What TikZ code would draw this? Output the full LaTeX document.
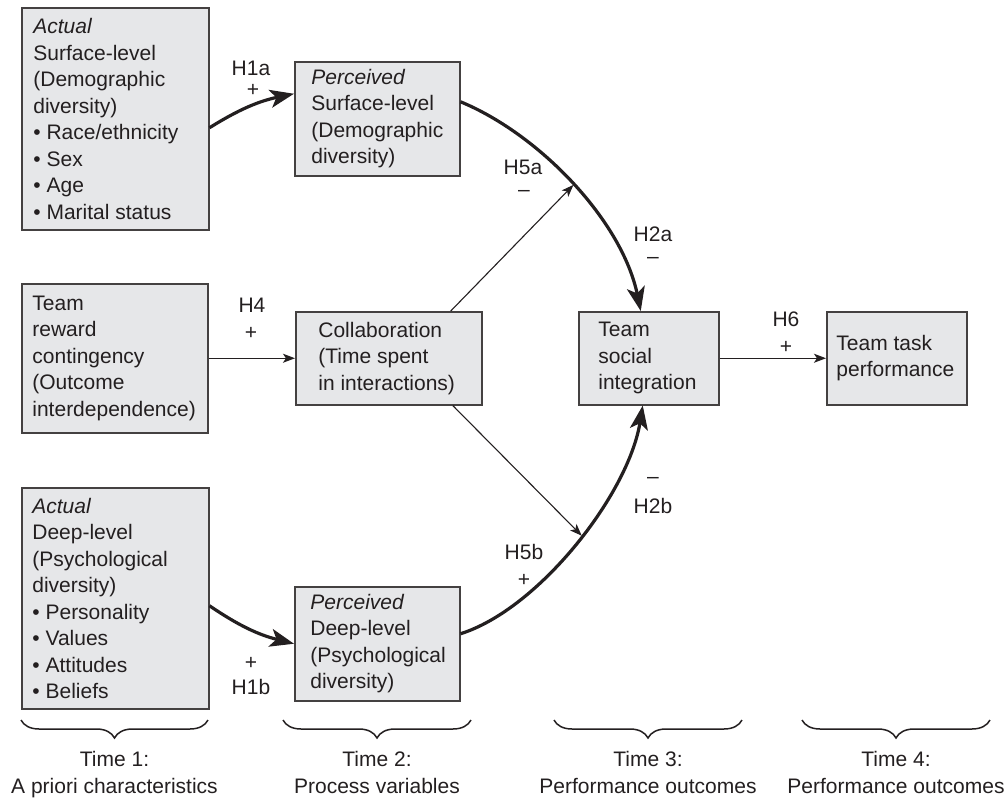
\documentclass[tikz,border=0pt]{standalone}
\usepackage{fontspec}
\setmainfont{Liberation Sans}
\usetikzlibrary{arrows.meta,decorations.pathreplacing,calc}
\definecolor{boxgray}{RGB}{230,231,233}
\definecolor{ink}{RGB}{35,31,32}
\begin{document}
\begin{tikzpicture}[x=0.5pt,y=-0.5pt,
  font=\fontsize{10.5pt}{13.25pt}\selectfont, color=ink,
  box/.style={draw=ink!85, line width=0.75pt, fill=boxgray, inner sep=0pt, anchor=north west},
  txt/.style={anchor=west, align=left, inner sep=0pt},
  lbl/.style={inner sep=0pt},
  thinarr/.style={line width=0.55pt, -{Stealth[length=6pt,width=4.5pt,inset=1.5pt]}},
  thickarr/.style={line width=1.6pt, -{Stealth[length=12pt,width=9pt,inset=3pt]}},
  brc/.style={decorate, decoration={brace, mirror, amplitude=9pt}, line width=0.75pt},
]
\useasboundingbox (0,0) rectangle (1008,798);

% boxes
\node[box, minimum width=93.5pt, minimum height=111pt] (a1) at (21,7) {};
\node[box, minimum width=82.5pt, minimum height=57pt] (p1) at (294,61) {};
\node[box, minimum width=93pt, minimum height=74.5pt] (tr) at (21,283) {};
\node[box, minimum width=93pt, minimum height=46.5pt] (co) at (295,311) {};
\node[box, minimum width=70pt, minimum height=46.5pt] (tsi) at (578,311) {};
\node[box, minimum width=70pt, minimum height=46.5pt] (ttp) at (826,311) {};
\node[box, minimum width=93.5pt, minimum height=110.5pt] (a2) at (21,487) {};
\node[box, minimum width=82.5pt, minimum height=57pt] (p2) at (294,586) {};

% box texts
\node[txt] (a1t) at ([xshift=6pt]a1.west) {\textit{Actual}\\Surface-level\\(Demographic\\diversity)\\\textbullet\ Race/ethnicity\\\textbullet\ Sex\\\textbullet\ Age\\\textbullet\ Marital status};
\node[txt] (p1t) at ([xshift=8.5pt]p1.west) {\textit{Perceived}\\Surface-level\\(Demographic\\diversity)};
\node[txt] (trt) at ([xshift=5.5pt]tr.west) {Team\\reward\\contingency\\(Outcome\\interdependence)};
\node[txt] (cot) at ([xshift=11.5pt]co.west) {Collaboration\\(Time spent\\in interactions)};
\node[txt] (tsit) at ([xshift=10pt]tsi.west) {Team\\social\\integration};
\node[txt] (ttpt) at ([xshift=5pt]ttp.west) {Team task\\performance};
\node[txt] (a2t) at ([xshift=5.5pt]a2.west) {\textit{Actual}\\Deep-level\\(Psychological\\diversity)\\\textbullet\ Personality\\\textbullet\ Values\\\textbullet\ Attitudes\\\textbullet\ Beliefs};
\node[txt] (p2t) at ([xshift=8pt]p2.west) {\textit{Perceived}\\Deep-level\\(Psychological\\diversity)};

% connectors
\draw[thickarr] ([yshift=-4.5pt]a1.east) to[bend left=10] ([yshift=12.5pt]p1.west);
\draw[thickarr] ([yshift=-3.75pt]a2.east) to[bend right=10] (p2.west);
\draw[thickarr] ([yshift=8.5pt]p1.east) .. controls (540,134.6) and (622,221) .. ([xshift=-4pt]tsi.north) coordinate[pos=0.5] (m1);
\draw[thickarr] ([yshift=5pt]p2.east) .. controls (539,609) and (628.5,494) .. ([xshift=-3pt]tsi.south) coordinate[pos=0.53] (m2);
\draw[thinarr] (tr.east) -- (co.west);
\draw[thinarr] (tsi.east) -- (ttp.west);
\draw[thinarr] ([xshift=31pt]co.north) -- (m1);
\draw[thinarr] ([xshift=32pt]co.south) -- (m2);

% labels
\node[lbl] (l1a) at (251,68) {H1a};
\node[lbl] (s1a) at (253,90) {+};
\node[lbl] (l4) at (252,305) {H4};
\node[lbl] (s4) at (251,333) {+};
\node[lbl] (l6) at (786,319) {H6};
\node[lbl] (s6) at (786,347) {+};
\node[lbl] (l5a) at (523,167) {H5a};
\node[lbl] (s5a) at (524,193) {–};
\node[lbl] (l2a) at (653,234) {H2a};
\node[lbl] (s2a) at (653,260) {–};
\node[lbl] (s2b) at (653,480) {–};
\node[lbl] (l2b) at (653,506) {H2b};
\node[lbl] (l5b) at (524,552) {H5b};
\node[lbl] (s5b) at (524,580) {+};
\node[lbl] (s1b) at (251,663) {+};
\node[lbl] (l1b) at (251,687) {H1b};

% braces
\draw[brc] (21,720) -- (208,720);
\draw[brc] (283,720) -- (471,720);
\draw[brc] (554,720) -- (742,720);
\draw[brc] (802,720) -- (990,720);

% time labels
\node[anchor=base] (t1a) at (114.5,766) {Time 1:};
\node[anchor=base] (t1b) at (114.5,793) {A priori characteristics};
\node[anchor=base] (t2a) at (377,766) {Time 2:};
\node[anchor=base] (t2b) at (377,793) {Process variables};
\node[anchor=base] (t3a) at (648,766) {Time 3:};
\node[anchor=base] (t3b) at (648,793) {Performance outcomes};
\node[anchor=base] (t4a) at (896,766) {Time 4:};
\node[anchor=base] (t4b) at (896,793) {Performance outcomes};
\end{tikzpicture}
\end{document}
